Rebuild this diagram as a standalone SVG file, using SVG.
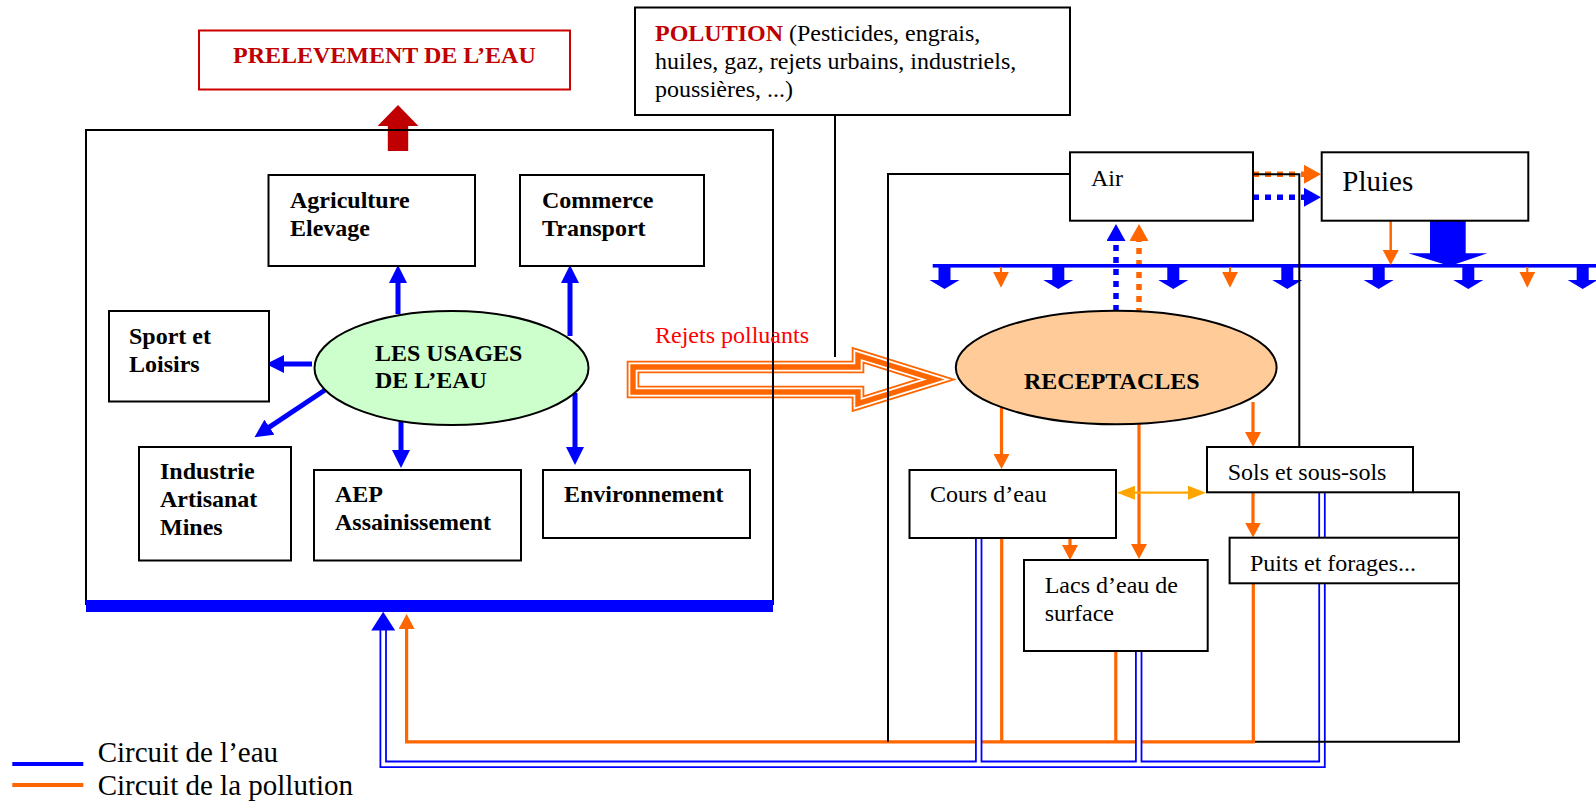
<svg xmlns="http://www.w3.org/2000/svg" width="1596" height="804" viewBox="0 0 1596 804">
<style>
text{font-family:"Liberation Serif","Times New Roman",serif;font-size:24px;fill:#000}
.b{font-weight:bold}
.red{fill:#C00000}
.box{fill:#fff;stroke:#000;stroke-width:2}
.frame{fill:none;stroke:#000;stroke-width:2}
.bl{stroke:#0000FF;stroke-width:5;fill:none}
.or{stroke:#FF6600;stroke-width:3.2;fill:none}
.dot{stroke-width:5.5;stroke-dasharray:6 6;fill:none}
</style>
<defs>
<marker id="mb" markerUnits="userSpaceOnUse" viewBox="0 0 18 18" markerWidth="18" markerHeight="18" refX="1" refY="9" orient="auto"><path d="M0,0 L18,9 L0,18 z" fill="#0000FF"/></marker>
<marker id="mo" markerUnits="userSpaceOnUse" viewBox="0 0 15 16" markerWidth="15" markerHeight="16" refX="1" refY="8" orient="auto"><path d="M0,0 L15,8 L0,16 z" fill="#FF6600"/></marker>
<marker id="mos" markerUnits="userSpaceOnUse" viewBox="0 0 16 16" markerWidth="16" markerHeight="16" refX="1" refY="8" orient="auto"><path d="M0,0 L16,8 L0,16 z" fill="#FF6600"/></marker>
<marker id="mly" markerUnits="userSpaceOnUse" viewBox="0 0 18 14" markerWidth="18" markerHeight="14" refX="1" refY="7" orient="auto-start-reverse"><path d="M0,0 L18,7 L0,14 z" fill="#FFA500"/></marker>
<marker id="mdb" markerUnits="userSpaceOnUse" viewBox="0 0 17 19" markerWidth="17" markerHeight="19" refX="1" refY="9.5" orient="auto"><path d="M0,0 L17,9.5 L0,19 z" fill="#0000FF"/></marker>
<marker id="mdo" markerUnits="userSpaceOnUse" viewBox="0 0 17 19" markerWidth="17" markerHeight="19" refX="1" refY="9.5" orient="auto"><path d="M0,0 L17,9.5 L0,19 z" fill="#FF6600"/></marker>
<polygon id="rain" points="-6,0 6,0 6,13 15,13 0,22 -15,13 -6,13" fill="#0000FF"/>
</defs>
<rect width="1596" height="804" fill="#fff"/>

<g id="connectors">
  <g id="rejets-arrow" stroke-linejoin="miter" stroke-miterlimit="10" fill="none">
    <path d="M633,367 H858 V355.3 L935.6,379.5 L858,403.7 V392 H633 Z" stroke="#FF6600" stroke-width="12.6" fill="#fff"/>
    <path d="M633,367 H858 V355.3 L935.6,379.5 L858,403.7 V392 H633 Z" stroke="#fff" stroke-width="9"/>
    <path d="M633,367 H858 V355.3 L935.6,379.5 L858,403.7 V392 H633 Z" stroke="#FF6600" stroke-width="5.4"/>
  </g>
  <line class="bl" x1="398" y1="314" x2="398" y2="282" marker-end="url(#mb)"/>
  <line class="bl" x1="570" y1="336" x2="570" y2="282" marker-end="url(#mb)"/>
  <line class="bl" x1="312" y1="364" x2="283" y2="364" marker-end="url(#mb)"/>
  <line class="bl" x1="325" y1="390" x2="268.6" y2="427.7" marker-end="url(#mb)"/>
  <line class="bl" x1="401" y1="421" x2="401" y2="451" marker-end="url(#mb)"/>
  <line class="bl" x1="575" y1="393" x2="575" y2="448" marker-end="url(#mb)"/>
  <polygon points="398,105 418.4,126 408.2,126 408.2,151 387.8,151 387.8,126 377.6,126" fill="#C00000"/>
  <line class="or" x1="1001.5" y1="402" x2="1001.5" y2="455" marker-end="url(#mo)"/>
  <line class="or" x1="1139" y1="424" x2="1139" y2="545" marker-end="url(#mo)"/>
  <line class="or" x1="1253" y1="402" x2="1253" y2="433" marker-end="url(#mo)"/>
  <line class="or" x1="1070" y1="538" x2="1070" y2="546" marker-end="url(#mo)"/>
  <line class="or" x1="1253" y1="492.3" x2="1253" y2="523.5" marker-end="url(#mo)"/>
  <line x1="1134" y1="492.7" x2="1189" y2="492.7" stroke="#FFA500" stroke-width="2.2" marker-start="url(#mly)" marker-end="url(#mly)"/>
  <line class="dot" stroke="#0000FF" x1="1116" y1="311" x2="1116" y2="240" marker-end="url(#mdb)"/>
  <line class="dot" stroke="#FF6600" x1="1139" y1="314" x2="1139" y2="240" marker-end="url(#mdo)"/>
  <line class="dot" stroke="#FF6600" x1="1253" y1="174.3" x2="1305" y2="174.3" marker-end="url(#mdo)"/>
  <line class="dot" stroke="#0000FF" x1="1253" y1="197.3" x2="1305" y2="197.3" marker-end="url(#mdb)"/>
  <rect x="932.7" y="264" width="663.3" height="3.6" fill="#0000FF"/>
  <use href="#rain" x="944.5" y="267"/>
  <use href="#rain" x="1058.3" y="267"/>
  <use href="#rain" x="1173.3" y="267"/>
  <use href="#rain" x="1287.3" y="267"/>
  <use href="#rain" x="1378.7" y="267"/>
  <use href="#rain" x="1468.3" y="267"/>
  <use href="#rain" x="1582.7" y="267"/>
  <line x1="1001" y1="267" x2="1001" y2="272.7" stroke="#FF6600" stroke-width="2" marker-end="url(#mos)"/>
  <line x1="1230" y1="267" x2="1230" y2="272.7" stroke="#FF6600" stroke-width="2" marker-end="url(#mos)"/>
  <line x1="1527.3" y1="267" x2="1527.3" y2="272.7" stroke="#FF6600" stroke-width="2" marker-end="url(#mos)"/>
  <polygon points="1430,221 1465.7,221 1465.7,253.3 1487.3,253.3 1450,266 1408.3,253.3 1430,253.3" fill="#0000FF"/>
  <line x1="1390.7" y1="221" x2="1390.7" y2="251" stroke="#FF6600" stroke-width="2.5" marker-end="url(#mo)"/>
  <path class="or" stroke-width="3.5" d="M1001.7,538 V741.8 M1115.8,651 V741.8 M1253.3,583.3 V741.8 H406.6 V628" marker-end="url(#mo)"/>
  <path d="M1322,492.3 V764.3 H383.2 V630 M978.7,538 V764.3 M1138.7,651 V764.3" fill="none" stroke="#0000FF" stroke-width="7.4"/>
  <path d="M1322,492.3 V764.3 H383.2 V630 M978.7,538 V764.3 M1138.7,651 V764.3" fill="none" stroke="#fff" stroke-width="3.8"/>
  <polygon points="383.2,611.7 395.2,630.5 371.2,630.5" fill="#0000FF"/>
</g>

<g id="frames">
  <path class="frame" d="M86,605 V130 H773 V605"/>
  <rect x="86" y="600" width="687" height="12" fill="#0000FF"/>
  <path class="frame" d="M835,115 V357"/>
  <path class="frame" d="M1070,174 H888 V741.8"/>
  <path class="frame" d="M1253,174.3 H1299.3 V446.7"/>
  <path class="frame" d="M1413,492.3 H1459 V741.8 H1255"/>
</g>

<g id="prelevement"><rect x="199" y="30.5" width="371" height="59" fill="#fff" stroke="#CC0000" stroke-width="2"/><text class="b red" x="233" y="63.3">PRELEVEMENT DE L’EAU</text></g>
<g id="pollution"><rect class="box" x="635" y="7.5" width="435" height="107.5"/>
  <text x="655" y="40.7"><tspan class="b red">POLUTION</tspan> (Pesticides, engrais,</text>
  <text x="655" y="68.5">huiles, gaz, rejets urbains, industriels,</text>
  <text x="655" y="96.5">poussières, ...)</text></g>
<g id="agriculture"><rect class="box" x="268.5" y="175" width="206.5" height="91"/><text class="b" x="290" y="208.3">Agriculture</text><text class="b" x="290" y="235.7">Elevage</text></g>
<g id="commerce"><rect class="box" x="520" y="175" width="184" height="91"/><text class="b" x="542" y="208.3">Commerce</text><text class="b" x="542" y="235.7">Transport</text></g>
<g id="sport"><rect class="box" x="109" y="311" width="160" height="90.5"/><text class="b" x="129" y="344">Sport et</text><text class="b" x="129" y="371.7">Loisirs</text></g>
<g id="usages"><ellipse cx="451.5" cy="368" rx="137" ry="57" fill="#CCFFCC" stroke="#000" stroke-width="2"/><text class="b" x="375" y="361">LES USAGES</text><text class="b" x="375" y="388">DE L’EAU</text></g>
<g id="industrie"><rect class="box" x="139" y="447" width="152" height="113.5"/><text class="b" x="160" y="479">Industrie</text><text class="b" x="160" y="507">Artisanat</text><text class="b" x="160" y="535">Mines</text></g>
<g id="aep"><rect class="box" x="314" y="470" width="207" height="90.5"/><text class="b" x="335" y="502">AEP</text><text class="b" x="335" y="530">Assainissement</text></g>
<g id="environnement"><rect class="box" x="543" y="470" width="207" height="68"/><text class="b" x="564" y="502">Environnement</text></g>
<g id="rejets-label"><text x="655" y="342.7" style="fill:#FF0000">Rejets polluants</text></g>
<g id="air"><rect class="box" x="1070" y="152.3" width="183" height="68.4"/><text x="1091" y="185.7">Air</text></g>
<g id="pluies"><rect class="box" x="1321.7" y="152.3" width="206.6" height="68.4"/><text x="1342.3" y="191" style="font-size:29px">Pluies</text></g>
<g id="receptacles"><ellipse cx="1116.2" cy="367.5" rx="160.4" ry="56.8" fill="#FFCC99" stroke="#000" stroke-width="2"/><text class="b" x="1024" y="389">RECEPTACLES</text></g>
<g id="cours"><rect class="box" x="909.5" y="470" width="206.5" height="68"/><text x="930" y="501.7">Cours d’eau</text></g>
<g id="sols"><rect class="box" x="1207" y="447" width="206" height="45.3"/><text x="1227.7" y="480">Sols et sous-sols</text></g>
<g id="puits"><rect class="box" x="1229.6" y="537.7" width="229.4" height="45.6"/><text x="1250" y="570.7">Puits et forages...</text></g>
<g id="lacs"><rect class="box" x="1024" y="560" width="183.7" height="91"/><text x="1044.7" y="593.3">Lacs d’eau de</text><text x="1044.7" y="620.7">surface</text></g>

<g id="legend">
  <line x1="12.3" y1="764" x2="83.3" y2="764" stroke="#0000FF" stroke-width="4"/>
  <line x1="12.3" y1="785" x2="83.3" y2="785" stroke="#FF6600" stroke-width="4"/>
  <text x="97.7" y="762.3" style="font-size:29px">Circuit de l’eau</text>
  <text x="97.7" y="794.7" style="font-size:29px">Circuit de la pollution</text>
</g>
</svg>
